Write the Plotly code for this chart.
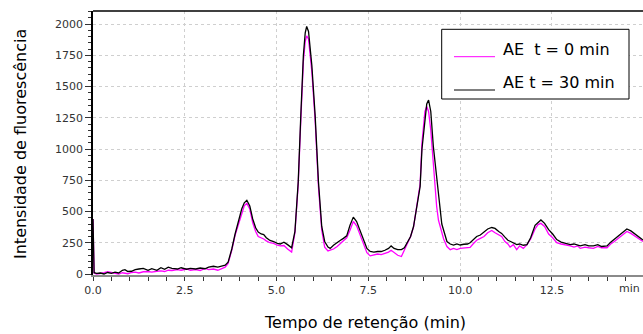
import plotly.graph_objects as go

# Retention time (min) and fluorescence intensity for the two extracts
retention_time = [
    0.00, 0.03, 0.10, 0.20, 0.30, 0.40, 0.50, 0.60, 0.70, 0.80, 0.87, 0.95,
    1.05, 1.15, 1.25, 1.37, 1.50, 1.60, 1.74, 1.85, 1.95, 2.05, 2.15, 2.30,
    2.40, 2.55, 2.65, 2.80, 2.92, 3.05, 3.15, 3.28, 3.40, 3.50, 3.60, 3.68,
    3.78, 3.87, 3.97, 4.05, 4.12, 4.19, 4.27, 4.35, 4.43, 4.50, 4.58, 4.65,
    4.72, 4.82, 4.92, 5.02, 5.10, 5.20, 5.30, 5.41, 5.50, 5.59, 5.66, 5.73,
    5.78, 5.82, 5.87, 5.96, 6.05, 6.14, 6.23, 6.31, 6.40, 6.46, 6.55, 6.65,
    6.73, 6.82, 6.91, 7.00, 7.09, 7.18, 7.28, 7.37, 7.46, 7.55, 7.65, 7.75,
    7.85, 7.95, 8.05, 8.12, 8.20, 8.30, 8.40, 8.48, 8.55, 8.65, 8.73, 8.82,
    8.91, 8.96, 9.04, 9.09, 9.14, 9.20, 9.27, 9.36, 9.41, 9.50, 9.55, 9.64,
    9.73, 9.82, 9.91, 10.00, 10.10, 10.20, 10.27, 10.35, 10.45, 10.55, 10.65,
    10.75, 10.86, 10.95, 11.05, 11.13, 11.22, 11.30, 11.36, 11.45, 11.54,
    11.62, 11.72, 11.82, 11.92, 12.04, 12.12, 12.20, 12.30, 12.41, 12.52,
    12.63, 12.75, 12.90, 13.00, 13.10, 13.20, 13.27, 13.40, 13.50, 13.63,
    13.75, 13.85, 14.00, 14.10, 14.20, 14.27, 14.40, 14.54, 14.65, 14.81, 14.98,
]

intensity_t0 = [
    440, 8, 0, 2, 10, 18, 12, 5, 0, 10, 5, 2,
    12, 15, 8, 18, 20, 15, 22, 25, 20, 30, 28, 35,
    30, 40, 30, 35, 28, 45, 35, 40, 30, 45, 55, 85,
    190, 310, 410, 495, 545, 565, 520, 410, 340, 300, 290, 280,
    265, 250, 245, 230, 225, 228, 200, 175, 330, 720, 1230, 1700,
    1860, 1905, 1880, 1620, 1230, 700, 350, 215, 185, 190, 200, 220,
    240, 260, 290, 350, 420, 385, 310, 230, 170, 145, 150, 160,
    155, 165, 175, 190, 175, 150, 140, 190, 240, 300, 375, 545,
    720, 1050, 1300, 1340, 1300, 1150, 850, 540, 430, 320, 280, 220,
    195, 205, 195, 205, 210, 215, 213, 240, 270, 285, 300,
    330, 348, 330, 315, 300, 260, 240, 215, 235, 195,
    225, 205, 235, 280, 360, 395, 405, 380, 320, 290,
    250, 240, 232, 225, 215, 225, 205, 215, 210, 205,
    220, 210, 210, 240, 260, 275, 310, 340, 325, 296, 260,
]

intensity_t30 = [
    440, 10, 5, 8, 0, 12, 5, 15, 8, 30, 35, 20,
    22, 35, 40, 45, 30, 42, 30, 50, 38, 55, 45, 40,
    50, 38, 45, 40, 48, 42, 55, 62, 55, 65, 70, 95,
    200, 320, 430, 520, 570, 590, 545, 440, 370, 335, 320, 315,
    290, 268, 260, 245, 240, 255, 235, 210, 340, 740, 1270, 1750,
    1930, 1980, 1940, 1670, 1270, 740, 380, 260, 215, 205, 230, 255,
    268, 285, 305, 390, 455, 420, 340, 260, 205, 180, 175, 180,
    180, 190, 205, 225, 205, 195, 195, 210, 245, 300, 380, 540,
    700, 1000, 1250, 1360, 1392, 1300, 1020, 760, 620, 400, 350, 260,
    240, 232, 240, 232, 238, 240, 250, 275, 300, 312, 340,
    360, 372, 365, 340, 325, 295, 270, 262, 250, 235,
    240, 230, 235, 290, 390, 415, 432, 405, 355, 320,
    275, 255, 245, 235, 240, 230, 225, 235, 225, 225,
    235, 220, 225, 255, 280, 300, 330, 360, 345, 312, 272,
]

x_tick_vals = [0.0, 2.5, 5.0, 7.5, 10.0, 12.5]
x_tick_text = ["0.0", "2.5", "5.0", "7.5", "10.0", "12.5"]
y_tick_vals = [0, 250, 500, 750, 1000, 1250, 1500, 1750, 2000]

series_names = ["AE  t = 0 min", "AE t = 30 min"]
series_colors = ["#ff00ff", "#000000"]

W, H = 643, 334
ML, MR, MT, MB = 93, 0, 11, 59
PW, PH = W - ML - MR, H - MT - MB


def px_x(p):
    return (p - ML) / PW


def px_y(p):
    return (H - MB - p) / PH


fig = go.Figure()
for vals, name, col in zip([intensity_t0, intensity_t30], series_names, series_colors):
    fig.add_trace(go.Scatter(
        x=retention_time, y=vals, mode="lines", name=name,
        line=dict(color=col, width=1.3), showlegend=False,
    ))

tick_font = dict(family="DejaVu Sans", size=11, color="#333333")

fig.update_xaxes(
    range=[0, 14.98], tickmode="array", tickvals=x_tick_vals, ticktext=x_tick_text,
    ticks="outside", ticklen=4, tickcolor="#333333", tickwidth=1,
    minor=dict(dtick=0.5, tick0=0, ticks="outside", ticklen=4, tickcolor="#333333",
               showgrid=False),
    showline=True, linecolor="#8a8a8a", linewidth=2,
    showgrid=True, gridcolor="#cfcfcf", griddash="dot", gridwidth=1,
    zeroline=False, tickfont=tick_font,
)
fig.update_yaxes(
    range=[-8, 2104], tickmode="array", tickvals=y_tick_vals,
    ticks="outside", ticklen=6, tickcolor="#333333", tickwidth=1,
    minor=dict(dtick=50, tick0=0, ticks="outside", ticklen=3, tickcolor="#333333",
               showgrid=False),
    showline=True, linecolor="#000000", linewidth=1.5,
    showgrid=True, gridcolor="#cfcfcf", griddash="dot", gridwidth=1,
    zeroline=False, tickfont=tick_font,
)

shapes = [
    # top frame line
    dict(type="line", xref="paper", yref="paper", x0=0, x1=1, y0=1, y1=1,
         line=dict(color="#000000", width=1.5)),
    # legend box
    dict(type="rect", xref="paper", yref="paper",
         x0=px_x(441.7), x1=px_x(629), y0=px_y(99), y1=px_y(29.3),
         line=dict(color="#000000", width=1), fillcolor="white"),
]
legend_rows = [(56.7, 50), (90, 82.7)]
annotations = []
for (ly, ty), name, col in zip(legend_rows, series_names, series_colors):
    shapes.append(dict(type="line", xref="paper", yref="paper",
                       x0=px_x(454), x1=px_x(495), y0=px_y(ly), y1=px_y(ly),
                       line=dict(color=col, width=1)))
    annotations.append(dict(xref="paper", yref="paper", x=px_x(501), y=px_y(ty),
                            xanchor="left", yanchor="middle", text=name, showarrow=False,
                            font=dict(family="DejaVu Sans", size=16, color="#000000")))

annotations += [
    dict(xref="paper", yref="paper", x=px_x(642), y=px_y(288), xanchor="right",
         yanchor="middle", text="min", showarrow=False, font=tick_font),
    dict(xref="paper", yref="paper", x=px_x(365), y=px_y(322.5), xanchor="center",
         yanchor="middle", text="Tempo de retenção (min)", showarrow=False,
         font=dict(family="DejaVu Sans", size=16, color="#000000")),
    dict(xref="paper", yref="paper", x=px_x(20), y=px_y(144), xanchor="center",
         yanchor="middle", text="Intensidade de fluorescência", textangle=-90,
         showarrow=False, font=dict(family="DejaVu Sans", size=16, color="#000000")),
]

fig.update_layout(
    width=W, height=H, margin=dict(l=ML, r=MR, t=MT, b=MB, pad=0),
    paper_bgcolor="white", plot_bgcolor="white",
    shapes=shapes, annotations=annotations, showlegend=False,
)

fig.write_html("out.html")
